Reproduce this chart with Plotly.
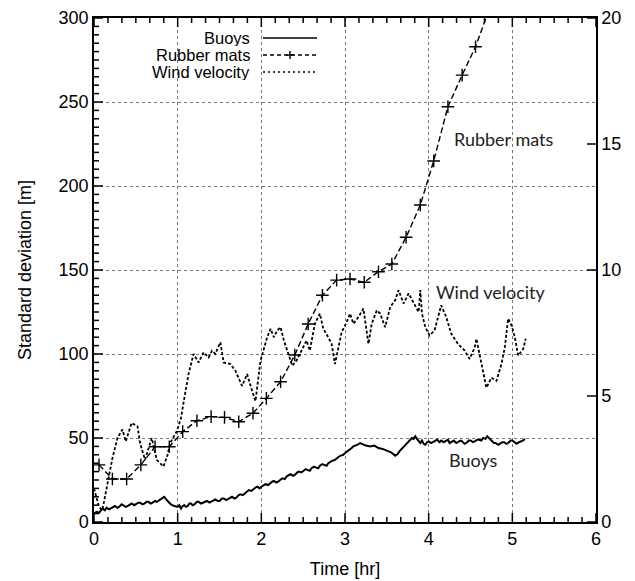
import plotly.graph_objects as go

# ---- data ----
buoy_t = [0.00, 0.03, 0.06, 0.10, 0.13, 0.15, 0.18, 0.20, 0.23, 0.25, 0.28, 0.30, 0.33, 0.35, 0.38,
          0.40, 0.43, 0.45, 0.48, 0.50, 0.53, 0.55, 0.58, 0.60, 0.63, 0.65, 0.68, 0.70, 0.73, 0.75,
          0.78, 0.80, 0.84, 0.88, 0.92, 0.96, 1.00, 1.02, 1.04, 1.06, 1.08, 1.10, 1.12, 1.14, 1.16,
          1.18, 1.20, 1.23, 1.25, 1.28, 1.30, 1.33, 1.35, 1.38, 1.40, 1.43, 1.45, 1.48, 1.50, 1.53,
          1.55, 1.58, 1.60, 1.63, 1.65, 1.68, 1.70, 1.73, 1.75, 1.78, 1.80, 1.83, 1.85, 1.88, 1.90,
          1.93, 1.95, 1.98, 2.00, 2.03, 2.05, 2.08, 2.10, 2.13, 2.15, 2.18, 2.20, 2.23, 2.25, 2.28,
          2.30, 2.33, 2.35, 2.38, 2.40, 2.43, 2.45, 2.48, 2.50, 2.53, 2.55, 2.58, 2.60, 2.63, 2.65,
          2.68, 2.70, 2.73, 2.75, 2.78, 2.80, 2.83, 2.85, 2.88, 2.90, 2.93, 2.95, 2.98, 3.00, 3.03,
          3.05, 3.08, 3.10, 3.13, 3.15, 3.18, 3.20, 3.25, 3.30, 3.35, 3.40, 3.45, 3.50, 3.55, 3.60,
          3.63, 3.65, 3.68, 3.70, 3.73, 3.75, 3.78, 3.80, 3.82, 3.84, 3.86, 3.88, 3.90, 3.92, 3.94,
          3.96, 3.98, 4.00, 4.03, 4.05, 4.08, 4.10, 4.13, 4.15, 4.18, 4.20, 4.23, 4.25, 4.28, 4.30,
          4.33, 4.35, 4.38, 4.40, 4.43, 4.45, 4.48, 4.50, 4.53, 4.55, 4.58, 4.60, 4.63, 4.65, 4.68,
          4.70, 4.73, 4.75, 4.78, 4.80, 4.83, 4.85, 4.88, 4.90, 4.93, 4.95, 4.98, 5.00, 5.03, 5.05,
          5.08, 5.10, 5.13, 5.15]
buoy_sd = [5, 6, 5.5, 8, 7, 8.5, 7.5, 8, 9, 9.5, 8.5, 9, 10.5, 10, 9,
           9.5, 10.5, 11, 10, 10.5, 11.5, 11.5, 10.5, 11, 12, 12, 11, 11.5, 12.5, 12,
           13, 14, 15, 12.5, 10.5, 9.5, 9, 10, 8, 9.5, 10, 9, 9.5, 11, 11,
           10, 10.5, 12, 12, 11, 11.5, 12.5, 12.5, 11.5, 12, 13, 13.5, 12.5, 12.5, 14,
           14, 13, 13.5, 14.5, 15, 14, 14.5, 16, 16.5, 16, 17, 18, 19, 18.5, 19.5,
           20.5, 21, 20, 21, 22, 22.5, 22, 23, 24, 24.5, 23.5, 24, 25.5, 26, 25.5,
           27, 28, 28.5, 27.5, 28, 29.5, 30, 29.5, 30.5, 31.5, 31, 30.5, 32, 33, 32.5,
           32, 33.5, 34.5, 34, 33.5, 35, 36, 36.5, 37, 38, 39, 39.5, 40, 41, 42,
           43, 44, 45, 45.5, 46, 47, 46.5, 45.5, 45, 45.5, 44, 43.5, 42.5, 41.5, 39.5,
           40.5, 42, 43.5, 45, 46, 47, 48.5, 50, 49.5, 51, 49.5, 48, 47, 48.5, 46.5,
           46, 47.5, 48, 47, 47.5, 48.5, 49, 47.5, 48.5, 47.5, 48, 49, 47, 48, 48.5,
           47, 47.5, 48.5, 48, 46.5, 47, 48.5, 48.5, 47.5, 48, 49, 49, 48.5, 50, 49.5,
           51, 49.5, 48, 47, 47, 46, 46.5, 47.5, 47.5, 46.5, 47, 48.5, 48.5, 47, 46.5,
           47.5, 48, 48.5, 49.5]

mats_t = [0.06, 0.22, 0.39, 0.56, 0.73, 0.90, 1.06, 1.23, 1.40, 1.56, 1.73, 1.90, 2.06, 2.23,
          2.40, 2.56, 2.73, 2.90, 3.06, 3.23, 3.40, 3.56, 3.73, 3.90, 4.06, 4.23, 4.40, 4.56, 4.73]
mats_sd = [34, 25.6, 25.6, 34, 44.8, 44.8, 53.8, 60.3, 62.7, 62.3, 59.7, 64.7, 73.6, 83.5,
           99.4, 117.9, 135, 144, 144.6, 142.7, 149, 153.6, 169.5, 188.7, 214.9, 247.2, 266, 282.9, 306]

wind_t = [0.00, 0.03, 0.06, 0.10, 0.15, 0.22, 0.28, 0.34, 0.38, 0.42, 0.45, 0.52, 0.55, 0.61, 0.65,
          0.69, 0.75, 0.83, 0.88, 0.91, 0.99, 1.04, 1.07, 1.13, 1.19, 1.25, 1.31, 1.37, 1.41, 1.45,
          1.51, 1.55, 1.63, 1.69, 1.77, 1.83, 1.89, 1.93, 1.99, 2.07, 2.11, 2.15, 2.19, 2.23, 2.27,
          2.32, 2.37, 2.42, 2.50, 2.54, 2.58, 2.64, 2.70, 2.74, 2.80, 2.84, 2.88, 2.92, 2.96, 3.02,
          3.06, 3.10, 3.16, 3.22, 3.28, 3.32, 3.38, 3.42, 3.48, 3.54, 3.60, 3.64, 3.70, 3.76, 3.82,
          3.88, 3.90, 3.92, 3.96, 4.01, 4.07, 4.15, 4.21, 4.27, 4.35, 4.43, 4.49, 4.55, 4.57, 4.63,
          4.69, 4.75, 4.81, 4.87, 4.91, 4.95, 4.99, 5.03, 5.07, 5.13, 5.16]
wind_ms = [1.33, 0.93, 0.60, 0.47, 1.33, 2.53, 3.33, 3.67, 3.20, 3.67, 3.93, 3.80, 3.13, 2.47, 2.93,
           3.33, 2.47, 2.20, 2.67, 3.13, 3.60, 4.13, 4.73, 5.87, 6.67, 6.33, 6.73, 6.53, 6.80, 6.67,
           7.13, 6.33, 6.27, 6.00, 5.40, 5.87, 5.20, 4.80, 6.40, 7.33, 7.67, 7.33, 7.60, 7.73, 7.20,
           6.67, 6.20, 6.40, 6.93, 7.20, 6.80, 7.87, 8.27, 7.67, 7.33, 7.07, 6.27, 6.93, 7.53, 7.93,
           8.27, 7.87, 8.13, 8.47, 7.07, 7.87, 8.40, 8.27, 7.73, 8.53, 8.80, 9.20, 8.67, 9.07, 8.67,
           8.33, 9.20, 8.27, 7.73, 7.40, 7.60, 8.60, 8.13, 7.47, 7.07, 6.80, 6.47, 6.93, 7.27, 6.27,
           5.33, 5.73, 5.60, 6.27, 6.93, 8.07, 7.80, 7.33, 6.60, 6.87, 7.27]

legend_names = ["Buoys", "Rubber mats", "Wind velocity"]
x_major = [0, 1, 2, 3, 4, 5, 6]
y_major = [0, 50, 100, 150, 200, 250, 300]
y2_major = [0, 5, 10, 15, 20]

FONT = "Liberation Sans"
LBL = "Lato"
W_PLOT, H_PLOT = 502, 504
X_MAX, Y_MAX, Y2_MAX = 6, 300, 20

fig = go.Figure()

# ---- axis tick marks as a line trace (inside ticks on all four sides) ----
dy_major = Y_MAX * 9 / H_PLOT    # 9 px in y-data units
dy_minor = Y_MAX * 5 / H_PLOT
dx_major = X_MAX * 9 / W_PLOT
dx_minor = X_MAX * 5 / W_PLOT
x_minor = [i / 6 for i in range(1, 36) if i % 6 != 0]
y_minor = [v for v in range(5, 300, 5) if v % 50 != 0]
tx, ty = [], []
for xv in x_major + x_minor:
    d = dy_major if xv in x_major else dy_minor
    tx += [xv, xv, None, xv, xv, None]
    ty += [0, d, None, Y_MAX - d, Y_MAX, None]
for yv in y_major + y_minor:
    d = dx_major if yv in y_major else dx_minor
    tx += [0, d, None]
    ty += [yv, yv, None]
for v2 in y2_major:
    yv = v2 * Y_MAX / Y2_MAX
    tx += [X_MAX - dx_major, X_MAX, None]
    ty += [yv, yv, None]
fig.add_trace(go.Scatter(x=tx, y=ty, mode="lines", line=dict(color="black", width=1.5),
                         hoverinfo="skip", showlegend=False, cliponaxis=False))

fig.add_trace(go.Scatter(x=buoy_t, y=buoy_sd, mode="lines", name="Buoys",
                         line=dict(color="black", width=2), showlegend=False))
fig.add_trace(go.Scatter(x=mats_t, y=mats_sd, mode="lines+markers", name="Rubber mats",
                         line=dict(color="black", width=1.4, dash="6px,3px"),
                         marker=dict(symbol="cross-thin", size=9, line=dict(color="black", width=1.4)),
                         showlegend=False))
fig.add_trace(go.Scatter(x=wind_t, y=wind_ms, mode="lines", name="Wind velocity", yaxis="y2",
                         line=dict(color="black", width=1.8, dash="3px,2px"), showlegend=False))

# ---- manual legend (reference: text on the left, line sample on the right) ----
def px_x(p):
    return (p - 94) / W_PLOT
def px_y(p):
    return (522 - p) / H_PLOT

leg_y = [38, 55, 72]
dashes = ["solid", "4px,3px", "2px,3px"]
for name, yy, d in zip(legend_names, leg_y, dashes):
    fig.add_annotation(x=px_x(251), y=px_y(yy), xref="paper", yref="paper", text=name,
                       showarrow=False, xanchor="right", yanchor="middle", borderpad=0,
                       height=17, valign="middle",
                       font=dict(family=FONT, size=16.5, color="black"))
    fig.add_shape(type="line", xref="paper", yref="paper", x0=px_x(263), x1=px_x(317),
                  y0=px_y(yy), y1=px_y(yy), line=dict(color="black", width=1.4, dash=d))
cx, cy = 290, 55
fig.add_shape(type="line", xref="paper", yref="paper", x0=px_x(cx - 4), x1=px_x(cx + 4),
              y0=px_y(cy), y1=px_y(cy), line=dict(color="black", width=1.4))
fig.add_shape(type="line", xref="paper", yref="paper", x0=px_x(cx), x1=px_x(cx),
              y0=px_y(cy - 4), y1=px_y(cy + 4), line=dict(color="black", width=1.4))

# ---- in-plot labels ----
fig.add_annotation(x=4.90, y=228, text="Rubber mats", showarrow=False,
                   font=dict(family=LBL, size=18, color="#222"))
fig.add_annotation(x=4.75, y=137, text="Wind velocity", showarrow=False,
                   font=dict(family=LBL, size=18, color="#222"))
fig.add_annotation(x=4.53, y=37, text="Buoys", showarrow=False,
                   font=dict(family=LBL, size=18, color="#222"))

fig.update_layout(
    width=635, height=581,
    margin=dict(l=94, r=39, t=18, b=59, autoexpand=False),
    paper_bgcolor="white", plot_bgcolor="white",
    showlegend=False,
    font=dict(family=FONT, size=18, color="black"),
    xaxis=dict(range=[0, X_MAX], tickvals=x_major, mirror=True,
               showline=True, linecolor="black", linewidth=1.5,
               ticks="", zeroline=False,
               showgrid=True, gridcolor="#777", griddash="dot",
               tickfont=dict(family=FONT, size=18),
               title=dict(text="Time [hr]", standoff=14, font=dict(family=FONT, size=18))),
    yaxis=dict(range=[0, Y_MAX], tickvals=y_major,
               showline=True, linecolor="black", linewidth=1.5,
               ticks="", zeroline=False,
               showgrid=True, gridcolor="#777", griddash="dot",
               tickfont=dict(family=FONT, size=18),
               title=dict(text="Standard deviation [m]", standoff=22, font=dict(family=FONT, size=18))),
    yaxis2=dict(range=[0, Y2_MAX], tickvals=y2_major, overlaying="y", side="right",
                showline=True, linecolor="black", linewidth=1.5,
                ticks="", zeroline=False, showgrid=False,
                tickfont=dict(family=FONT, size=18)),
)

fig.write_html("out.html")
